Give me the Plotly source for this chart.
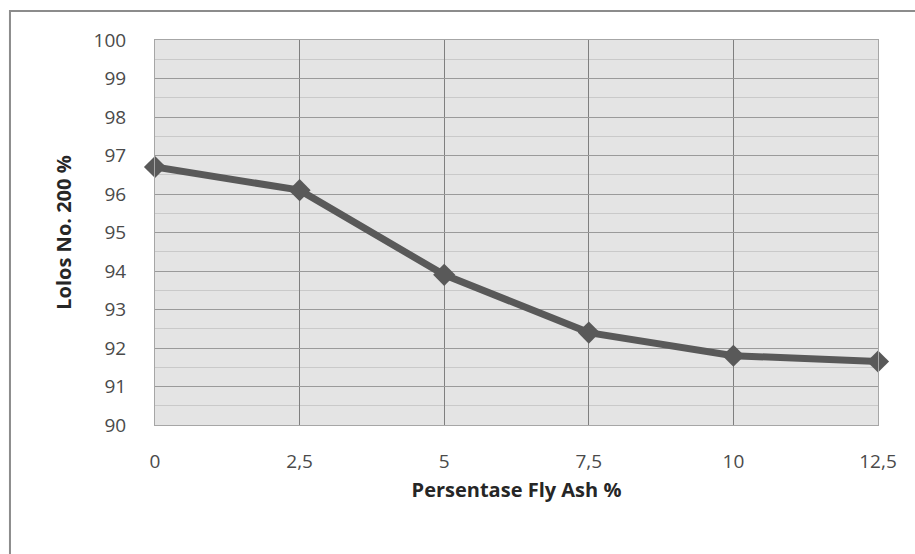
import plotly.graph_objects as go

fly_ash = [0, 2.5, 5, 7.5, 10, 12.5]
x_labels = ["0", "2,5", "5", "7,5", "10", "12,5"]
lolos = [96.7, 96.1, 93.9, 92.4, 91.8, 91.65]
y_ticks = list(range(90, 101))

fig = go.Figure()
fig.add_trace(go.Scatter(
    x=fly_ash, y=lolos, mode="lines+markers",
    line=dict(color="#595959", width=7),
    marker=dict(symbol="diamond", size=17, color="#595959"),
    cliponaxis=False, showlegend=False,
))

font = "Open Sans, Liberation Sans, sans-serif"
fig.update_layout(
    width=915, height=554,
    margin=dict(l=155, r=37, t=40, b=129),
    paper_bgcolor="white", plot_bgcolor="#e4e4e4",
    font=dict(family=font, color="#404040"),
    xaxis=dict(
        range=[0, 12.5], tickvals=fly_ash, ticktext=x_labels,
        showgrid=True, gridcolor="#7f7f7f", gridwidth=1,
        zeroline=False, showline=True, linecolor="#a6a6a6", mirror=True,
        tickfont=dict(size=19, color="#4a4a4a"), ticklabelstandoff=19,
        title=dict(text="<b>Persentase Fly Ash %</b>", font=dict(size=20, color="#262626"), standoff=10),
    ),
    yaxis=dict(
        range=[90, 100], tickvals=y_ticks,
        showgrid=True, gridcolor="#9a9a9a", gridwidth=1,
        minor=dict(dtick=0.5, showgrid=True, gridcolor="#c9c9c9", gridwidth=1),
        zeroline=False, showline=True, linecolor="#a6a6a6", mirror=True,
        tickfont=dict(size=19, color="#4a4a4a"), ticklabelstandoff=24,
        title=dict(text="<b>Lolos No. 200 %</b>", font=dict(size=20, color="#262626"), standoff=16),
    ),
    shapes=[dict(
        type="rect", xref="paper", yref="paper",
        x0=-0.2006, x1=1.06, y0=-0.36, y1=1.0753,
        line=dict(color="#8c8c8c", width=2), layer="below",
    )],
)

fig.write_html("out.html")
